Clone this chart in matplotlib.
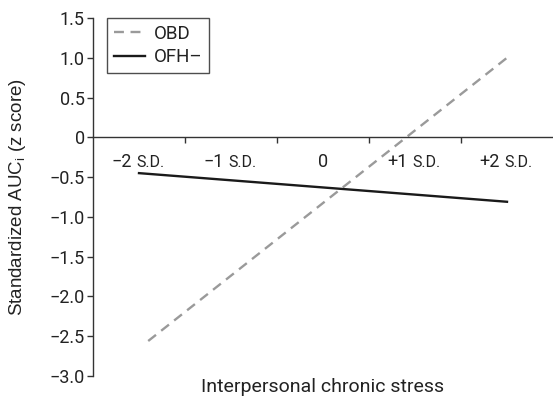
import matplotlib
matplotlib.use("Agg")
import matplotlib.pyplot as plt

plt.rcParams['font.family'] = ['Roboto', 'DejaVu Sans']

# Data
categories = [-2, -1, 0, 1, 2]
cat_nums = ["\u22122", "\u22121", "0", "+1", "+2"]
cat_units = ["S.D.", "S.D.", "", "S.D.", "S.D."]
obd_x = [-1.9, 2.0]
obd_y = [-2.56, 1.0]
ofh_x = [-2.0, 2.0]
ofh_y = [-0.45, -0.81]
yticks = [1.5, 1.0, 0.5, 0, -0.5, -1.0, -1.5, -2.0, -2.5, -3.0]
ytick_labels = ["1.5", "1.0", "0.5", "0", "\u22120.5", "\u22121.0", "\u22121.5", "\u22122.0", "\u22122.5", "\u22123.0"]
xtick_bounds = [-1.5, -0.5, 0.5, 1.5]

FS = 13
fig = plt.figure(figsize=(5.53, 3.97), dpi=100)
ax = fig.add_axes([93/553, 1-376/397, 1-93/553, (376-18)/397])

ax.plot(obd_x, obd_y, color='#9a9a9a', lw=1.7, ls=(0, (4.2, 2.8)), label='OBD')
ax.plot(ofh_x, ofh_y, color='#1a1a1a', lw=1.7, label='OFH\u2013')

ax.set_xlim(-2.5, 2.5)
ax.set_ylim(-3.0, 1.5)
ax.set_yticks(yticks)
ax.set_yticklabels(ytick_labels, fontsize=FS, color='#222222')
ax.tick_params(axis='y', direction='out', length=4, width=1, color='#333333', pad=2)

ax.spines['top'].set_visible(False)
ax.spines['right'].set_visible(False)
ax.spines['bottom'].set_position(('data', 0))
for s in ('left', 'bottom'):
    ax.spines[s].set_color('#333333')
    ax.spines[s].set_linewidth(1.0)

ax.set_xticks(xtick_bounds)
ax.set_xticklabels([])
ax.tick_params(axis='x', direction='out', length=4, width=1, color='#333333')

# Category labels with smaller "S.D." part
for c, num, unit in zip(categories, cat_nums, cat_units):
    if unit:
        ax.annotate(num, xy=(c, 0), xytext=(-7, -30), textcoords='offset pixels',
                    ha='right', va='baseline', fontsize=FS, color='#222222')
        ax.annotate(unit, xy=(c, 0), xytext=(-3, -30), textcoords='offset pixels',
                    ha='left', va='baseline', fontsize=11.5, color='#222222')
    else:
        ax.annotate(num, xy=(c, 0), xytext=(0, -30), textcoords='offset pixels',
                    ha='center', va='baseline', fontsize=FS, color='#222222')

ax.set_xlabel('Interpersonal chronic stress', fontsize=14, color='#222222')
ax.xaxis.set_label_coords(0.5, -0.005)
ax.xaxis.label.set_va('top')
ax.set_ylabel('Standardized AUC$_\\mathregular{i}$ (z score)', fontsize=13.5,
              color='#222222', family=['Liberation Sans', 'DejaVu Sans'])
ax.yaxis.set_label_coords(-65/460, 0.5)

leg = ax.legend(loc='upper left', bbox_to_anchor=(14/460, 1.0), frameon=True,
                fancybox=False, fontsize=13.5, handlelength=1.65, handletextpad=0.5,
                borderpad=0.35, labelspacing=0.3, borderaxespad=0)
leg.get_frame().set_edgecolor('#222222')
leg.get_frame().set_linewidth(1.0)
for t in leg.get_texts():
    t.set_color('#222222')

fig.savefig('out.png', dpi=100)
